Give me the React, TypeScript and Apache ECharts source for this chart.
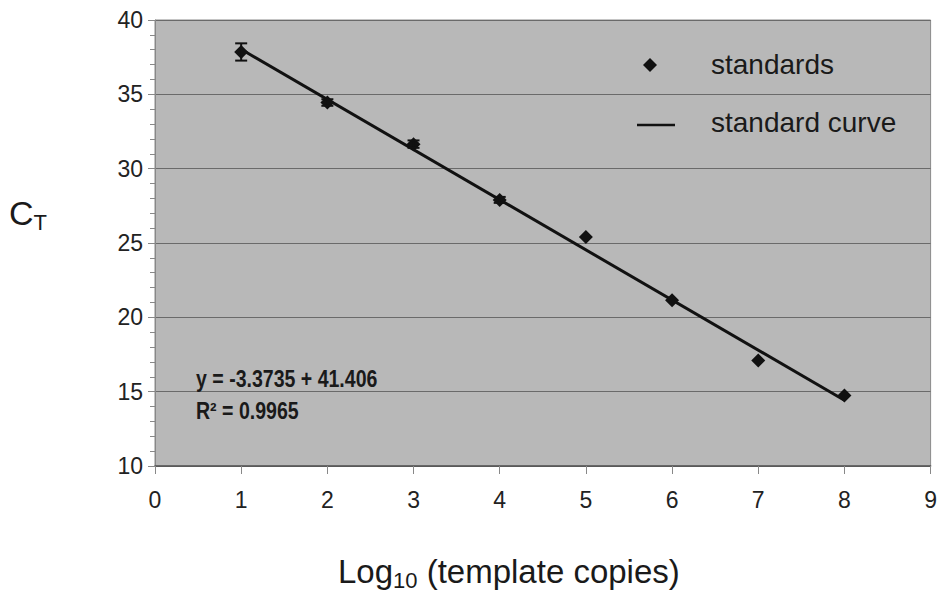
import React, { useEffect, useRef } from "react";
import * as echarts from "echarts";

// Standards: log10(template copies) vs CT
const logCopies = [1, 2, 3, 4, 5, 6, 7, 8];
const ctValues = [37.85, 34.45, 31.65, 27.9, 25.4, 21.15, 17.1, 14.75];
const ctErrors = [0.58, 0.22, 0.25, 0.2, 0, 0, 0, 0];

// Standard curve endpoints (fitted line)
const curveX = [1, 8];
const curveY = [38.03, 14.42];

const xTicks = [0, 1, 2, 3, 4, 5, 6, 7, 8, 9];
const yTicks = [10, 15, 20, 25, 30, 35, 40];

const equationText = "y = -3.3735 + 41.406";
const r2Text = "R\u00B2 = 0.9965";
const legendNames = ["standards", "standard curve"];

const FONT = "'Liberation Sans', Arial, Helvetica, sans-serif";

export default function App() {
  const ref = useRef<HTMLDivElement>(null);

  useEffect(() => {
    if (!ref.current) return;
    const chart = echarts.init(ref.current, undefined, { renderer: "svg" });

    const errData = logCopies.map((x, i) => [x, ctValues[i] - ctErrors[i], ctValues[i] + ctErrors[i]]);

    chart.setOption({
      animation: false,
      backgroundColor: "#ffffff",
      textStyle: { fontFamily: FONT },
      grid: {
        left: 155,
        right: 7,
        top: 20,
        bottom: 127,
        show: true,
        backgroundColor: "#b8b8b8",
        borderColor: "#8a8a8a",
        borderWidth: 1,
      },
      xAxis: {
        type: "value",
        min: xTicks[0],
        max: xTicks[xTicks.length - 1],
        interval: 1,
        axisLine: { show: true, onZero: false, lineStyle: { color: "#555", width: 1.5 } },
        axisTick: { show: true, length: 8, lineStyle: { color: "#888" } },
        axisLabel: { fontSize: 23, color: "#222", margin: 22, fontFamily: FONT },
        splitLine: { show: false },
      },
      yAxis: {
        type: "value",
        min: yTicks[0],
        max: yTicks[yTicks.length - 1],
        interval: 5,
        axisLine: { show: true, lineStyle: { color: "#888", width: 1 } },
        axisTick: { show: true, length: 7, lineStyle: { color: "#888" } },
        minorTick: { show: true, splitNumber: 5, length: 5, lineStyle: { color: "#888" } },
        axisLabel: { fontSize: 23, color: "#222", margin: 12, fontFamily: FONT },
        splitLine: { show: true, lineStyle: { color: "#6a6a6a", width: 1 } },
      },
      series: [
        {
          name: legendNames[1],
          type: "line",
          data: curveX.map((x, i) => [x, curveY[i]]),
          symbol: "none",
          lineStyle: { color: "#111", width: 3 },
          z: 2,
        },
        {
          name: legendNames[0],
          type: "scatter",
          data: logCopies.map((x, i) => [x, ctValues[i]]),
          symbol: "diamond",
          symbolSize: 14,
          itemStyle: { color: "#111", opacity: 1 },
          z: 3,
        },
        {
          name: "error",
          type: "custom",
          data: errData,
          z: 4,
          renderItem: (params: any, api: any) => {
            const x = api.value(0);
            const lo = api.coord([x, api.value(1)]);
            const hi = api.coord([x, api.value(2)]);
            if (Math.abs(hi[1] - lo[1]) < 1) return { type: "group", children: [] };
            const w = 6;
            const style = { stroke: "#111", lineWidth: 2 };
            return {
              type: "group",
              children: [
                { type: "line", shape: { x1: lo[0], y1: lo[1], x2: hi[0], y2: hi[1] }, style },
                { type: "line", shape: { x1: hi[0] - w, y1: hi[1], x2: hi[0] + w, y2: hi[1] }, style },
                { type: "line", shape: { x1: lo[0] - w, y1: lo[1], x2: lo[0] + w, y2: lo[1] }, style },
              ],
            };
          },
        },
      ],
      graphic: [
        // Legend
        {
          type: "polygon",
          shape: { points: [[650, 58], [657, 65], [650, 72], [643, 65]] },
          style: { fill: "#111" },
          z: 10,
        },
        {
          type: "text",
          left: 711,
          top: 50,
          style: { text: legendNames[0], fontSize: 28, fill: "#1a1a1a", fontFamily: FONT },
          z: 10,
        },
        {
          type: "line",
          shape: { x1: 637, y1: 125, x2: 675, y2: 125 },
          style: { stroke: "#111", lineWidth: 2.5 },
          z: 10,
        },
        {
          type: "text",
          left: 711,
          top: 108,
          style: { text: legendNames[1], fontSize: 28, fill: "#1a1a1a", fontFamily: FONT },
          z: 10,
        },
        // Equation
        {
          type: "text",
          x: 196,
          y: 379,
          scaleX: 0.85,
          style: {
            text: equationText,
            fontSize: 23,
            fontWeight: "bold",
            fill: "#1a1a1a",
            fontFamily: FONT,
            verticalAlign: "middle",
          },
          z: 10,
        },
        {
          type: "text",
          x: 196,
          y: 411,
          scaleX: 0.85,
          style: {
            text: r2Text,
            fontSize: 23,
            fontWeight: "bold",
            fill: "#1a1a1a",
            fontFamily: FONT,
            verticalAlign: "middle",
          },
          z: 10,
        },
        // Axis titles
        {
          type: "text",
          left: 9,
          top: 196,
          style: {
            text: "{a|C}{b|T}",
            fill: "#1a1a1a",
            rich: {
              a: { fontSize: 34, fontFamily: FONT, fill: "#1a1a1a", lineHeight: 40 },
              b: { fontSize: 22, fontFamily: FONT, fill: "#1a1a1a", verticalAlign: "bottom", lineHeight: 22 },
            },
          },
          z: 10,
        },
        {
          type: "text",
          left: 338,
          top: 555,
          style: {
            text: "{a|Log}{b|10}{a| (template copies)}",
            fill: "#1a1a1a",
            rich: {
              a: { fontSize: 33, fontFamily: FONT, fill: "#1a1a1a", lineHeight: 40 },
              b: { fontSize: 22, fontFamily: FONT, fill: "#1a1a1a", verticalAlign: "bottom", lineHeight: 22 },
            },
          },
          z: 10,
        },
      ],
    });

    return () => chart.dispose();
  }, []);

  return <div ref={ref} style={{ width: 940, height: 593, position: "absolute", left: 0, top: 0 }} />;
}
